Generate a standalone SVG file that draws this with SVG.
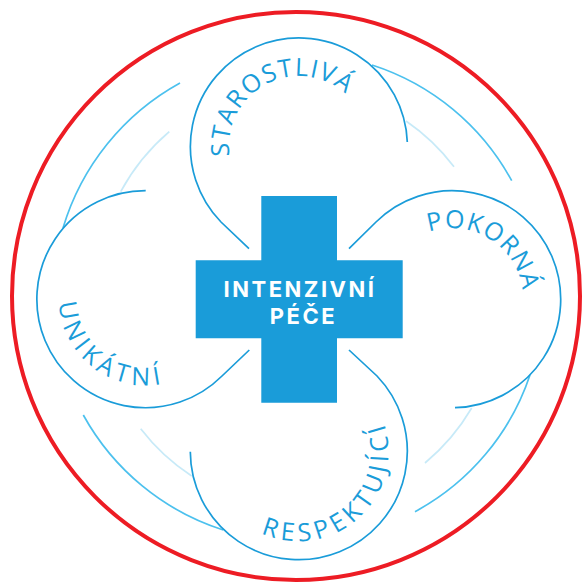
<svg xmlns="http://www.w3.org/2000/svg" width="583" height="583" viewBox="0 0 583 583">
<style>
.loop{fill:none;stroke:#1a9cd9;stroke-width:1.7}
.mid{fill:none;stroke:#4cc1ee;stroke-width:1.7}
.pale{fill:none;stroke:#c7eaf8;stroke-width:1.7}
.lbl{font-family:"Open Sans","Liberation Sans",sans-serif;font-size:25px;fill:#1a9cd9}
.ctr{font-family:"Inter","Liberation Sans",sans-serif;font-size:22px;font-weight:700;fill:#fff;text-anchor:middle;letter-spacing:2.5px}
</style>
<defs>
<path id="pS" d="M229.7 156A70 70 0 1 1 367.6 160"/>
<path id="pP" d="M429 232A71 71 0 0 1 520.1 319"/>
<path id="pU" d="M59 303A87 87 0 0 0 212 355"/>
<path id="pR" d="M261 533A90 90 0 0 0 372.5 400"/>
</defs>
<circle id="ring" cx="296" cy="296" r="284" fill="none" stroke="#ed1c24" stroke-width="4"/>
<g id="connectors">
<path class="mid" d="M180 83A246 246 0 0 0 63 228"/>
<path class="mid" d="M372 65A244 244 0 0 1 511.7 180.7"/>
<path class="mid" d="M530 375A243 243 0 0 1 415 511.7"/>
<path class="mid" d="M83.3 415A245 245 0 0 0 223.3 530"/>
<path class="pale" d="M169.3 131.7A210 210 0 0 0 120.7 191.7"/>
<path class="pale" d="M406 121A210 210 0 0 1 454 166.7"/>
<path class="pale" d="M471.7 408A210 210 0 0 1 425 463"/>
<path class="pale" d="M140.7 428.7A210 210 0 0 0 191.7 476"/>
<path class="loop" d="M407.3 142A108.5 108.5 0 1 0 221 222L249 248.7"/>
<path class="loop" d="M455 407.7A108.5 108.5 0 1 0 376 222L349 248.7"/>
<path class="loop" d="M190.3 451.7A108.5 108.5 0 1 0 377 376L349 350"/>
<path class="loop" d="M145.7 190.7A108.5 108.5 0 1 0 222 376L249.3 350"/>
</g>
<g id="cross">
<path fill="#1a9cd9" d="M261.3 196H337V260.3H402.7V338.3H337V402.7H261.3V338.3H195.7V260.3H261.3Z"/>
<text class="ctr" x="300" y="297.3">INTENZIVNÍ</text>
<text class="ctr" x="303.5" y="324.3">PÉČE</text>
</g>
<g id="starostliva"><text class="lbl" letter-spacing="1.4"><textPath href="#pS">STAROSTLIVÁ</textPath></text></g>
<g id="pokorna"><text class="lbl" letter-spacing="1"><textPath href="#pP">POKORNÁ</textPath></text></g>
<g id="unikatni"><text class="lbl" letter-spacing="4.7"><textPath href="#pU">UNIKÁTNÍ</textPath></text></g>
<g id="respektujici"><text class="lbl" letter-spacing="4.7"><textPath href="#pR">RESPEKTUJÍCÍ</textPath></text></g>
</svg>
